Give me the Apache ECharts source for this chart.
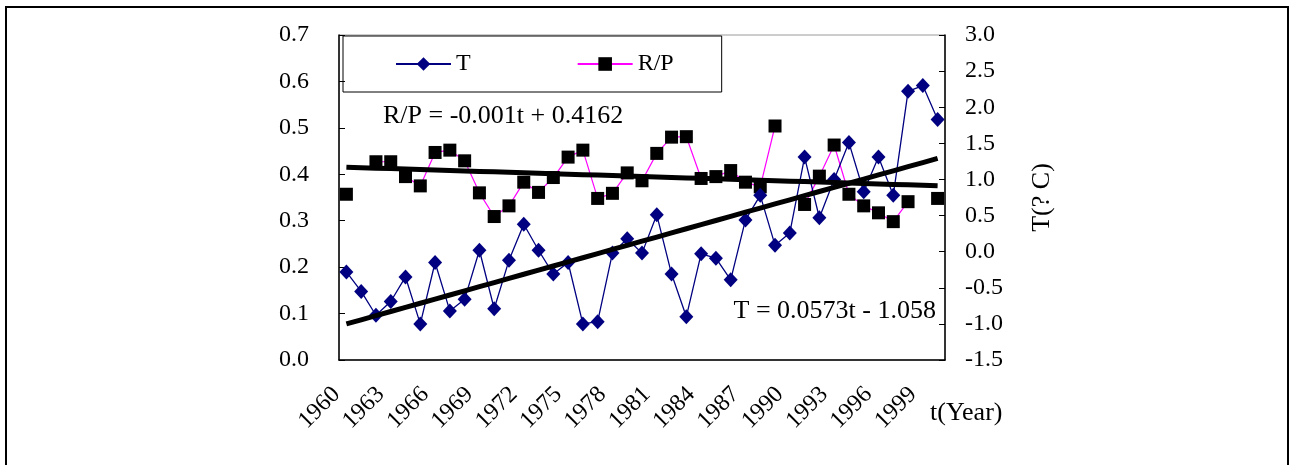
<!DOCTYPE html>
<html>
<head>
<meta charset="utf-8">
<script src="https://cdn.jsdelivr.net/npm/echarts@6/dist/echarts.min.js"></script>
<style>
  html, body { margin: 0; padding: 0; background: #ffffff; }
  #chart { width: 1294px; height: 465px; }
</style>
</head>
<body>
<div id="chart"></div>
<script>
// Years on the category axis
const years = ['1960','1961','1962','1963','1964','1965','1966','1967','1968','1969',
               '1970','1971','1972','1973','1974','1975','1976','1977','1978','1979',
               '1980','1981','1982','1983','1984','1985','1986','1987','1988','1989',
               '1990','1991','1992','1993','1994','1995','1996','1997','1998','1999','2000'];

// Temperature T (°C, right axis)
const tempT = [-0.28, -0.55, -0.88, -0.69, -0.35, -1.00, -0.15, -0.82, -0.66, 0.02,
               -0.79, -0.12, 0.38, 0.02, -0.31, -0.15, -1.00, -0.97, -0.02, 0.18,
               -0.02, 0.51, -0.31, -0.90, -0.03, -0.09, -0.39, 0.44, 0.78, 0.09,
               0.26, 1.31, 0.47, 1.00, 1.51, 0.83, 1.31, 0.78, 2.22, 2.30, 1.83];

// Ratio R/P (left axis); null = no observation that year
const ratioRP = [0.357, null, 0.427, 0.427, 0.395, 0.375, 0.447, 0.452, 0.429, 0.360,
                 0.309, 0.332, 0.383, 0.361, 0.393, 0.437, 0.452, 0.348, 0.359, 0.403,
                 0.386, 0.445, 0.480, 0.481, 0.391, 0.395, 0.408, 0.383, 0.373, 0.504,
                 null, 0.335, 0.396, 0.463, 0.357, 0.332, 0.317, 0.298, 0.341, null, 0.348];

// Linear fits, t = 1 for the first year: [slope, intercept]
const fitT = [0.0573, -1.058];
const fitRP = [-0.001, 0.4162];

// Axis ranges
const leftAxis = { min: 0, max: 0.7, step: 0.1 };
const rightAxis = { min: -1.5, max: 3.0, step: 0.5 };

const fitLine = (fit) => years.map((_, i) => +(fit[0] * (i + 1) + fit[1]).toFixed(4));

const FONT = '"Liberation Serif", "Times New Roman", serif';
const chart = echarts.init(document.getElementById('chart'), null, { renderer: 'canvas' });

chart.setOption({
  animation: false,
  backgroundColor: '#ffffff',
  textStyle: { fontFamily: FONT, color: '#000' },
  grid: {
    left: 339, right: 349, top: 35, bottom: 105,
    show: true, borderColor: '#9a9a9a', borderWidth: 1, backgroundColor: 'transparent'
  },
  legend: {
    left: 343, top: 36,
    padding: [16, 48, 16, 52],
    itemGap: 106,
    itemWidth: 55, itemHeight: 17,
    borderColor: '#000', borderWidth: 1,
    textStyle: { fontFamily: FONT, fontSize: 24, color: '#000' },
    data: ['T', 'R/P']
  },
  xAxis: {
    type: 'category',
    data: years,
    boundaryGap: true,
    axisLine: { lineStyle: { color: '#000', width: 1.5 } },
    axisTick: { inside: true, length: 5, interval: 0, lineStyle: { color: '#000' } },
    axisLabel: {
      interval: 2, rotate: 45, margin: 21, padding: [0, 14, 0, 0],
      fontFamily: FONT, fontSize: 24, color: '#000'
    },
    splitLine: { show: false }
  },
  yAxis: [
    {
      type: 'value', position: 'left',
      min: leftAxis.min, max: leftAxis.max, interval: leftAxis.step,
      axisLine: { show: true, lineStyle: { color: '#000', width: 1.5 } },
      axisTick: { show: true, inside: true, length: 6, lineStyle: { color: '#000' } },
      axisLabel: { margin: 30, fontFamily: FONT, fontSize: 24, color: '#000',
                   formatter: (v) => v.toFixed(1) },
      splitLine: { show: false }
    },
    {
      type: 'value', position: 'right',
      min: rightAxis.min, max: rightAxis.max, interval: rightAxis.step,
      axisLine: { show: true, lineStyle: { color: '#000', width: 1.5 } },
      axisTick: { show: true, inside: true, length: 6, lineStyle: { color: '#000' } },
      axisLabel: { margin: 20, fontFamily: FONT, fontSize: 24, color: '#000',
                   formatter: (v) => v.toFixed(1) },
      splitLine: { show: false },
      name: 'T(? C)', nameLocation: 'middle', nameRotate: 90, nameGap: 84,
      nameTextStyle: { fontFamily: FONT, fontSize: 26, color: '#000' }
    }
  ],
  series: [
    {
      name: 'R/P', type: 'line', yAxisIndex: 0, data: ratioRP,
      symbol: 'rect', symbolSize: 13, showAllSymbol: true,
      itemStyle: { color: '#000' },
      lineStyle: { color: '#ff00ff', width: 1.2 },
      connectNulls: false, z: 3
    },
    {
      name: 'T', type: 'line', yAxisIndex: 1, data: tempT,
      symbol: 'diamond', symbolSize: [14, 15], showAllSymbol: true,
      itemStyle: { color: '#000080' },
      lineStyle: { color: '#000080', width: 1.3 },
      z: 4
    },
    {
      name: 'R/P fit', type: 'line', yAxisIndex: 0, data: fitLine(fitRP),
      symbol: 'none', lineStyle: { color: '#000', width: 5 }, z: 5, silent: true
    },
    {
      name: 'T fit', type: 'line', yAxisIndex: 1, data: fitLine(fitT),
      symbol: 'none', lineStyle: { color: '#000', width: 5 }, z: 5, silent: true
    }
  ],
  graphic: [
    { type: 'rect', z: -10, silent: true,
      shape: { x: 6, y: 7, width: 1282, height: 500 },
      style: { fill: 'transparent', stroke: '#000', lineWidth: 2 } },
    { type: 'text', left: 383, top: 103, z: 10,
      style: { text: 'R/P = -0.001t + 0.4162', font: '26px ' + FONT, fill: '#000' } },
    { type: 'text', right: 1294 - 936, top: 298, z: 10,
      style: { text: 'T = 0.0573t - 1.058', font: '26px ' + FONT, fill: '#000' } },
    { type: 'text', left: 930, top: 400, z: 10,
      style: { text: 't(Year)', font: '26px ' + FONT, fill: '#000' } }
  ]
});
</script>
</body>
</html>
